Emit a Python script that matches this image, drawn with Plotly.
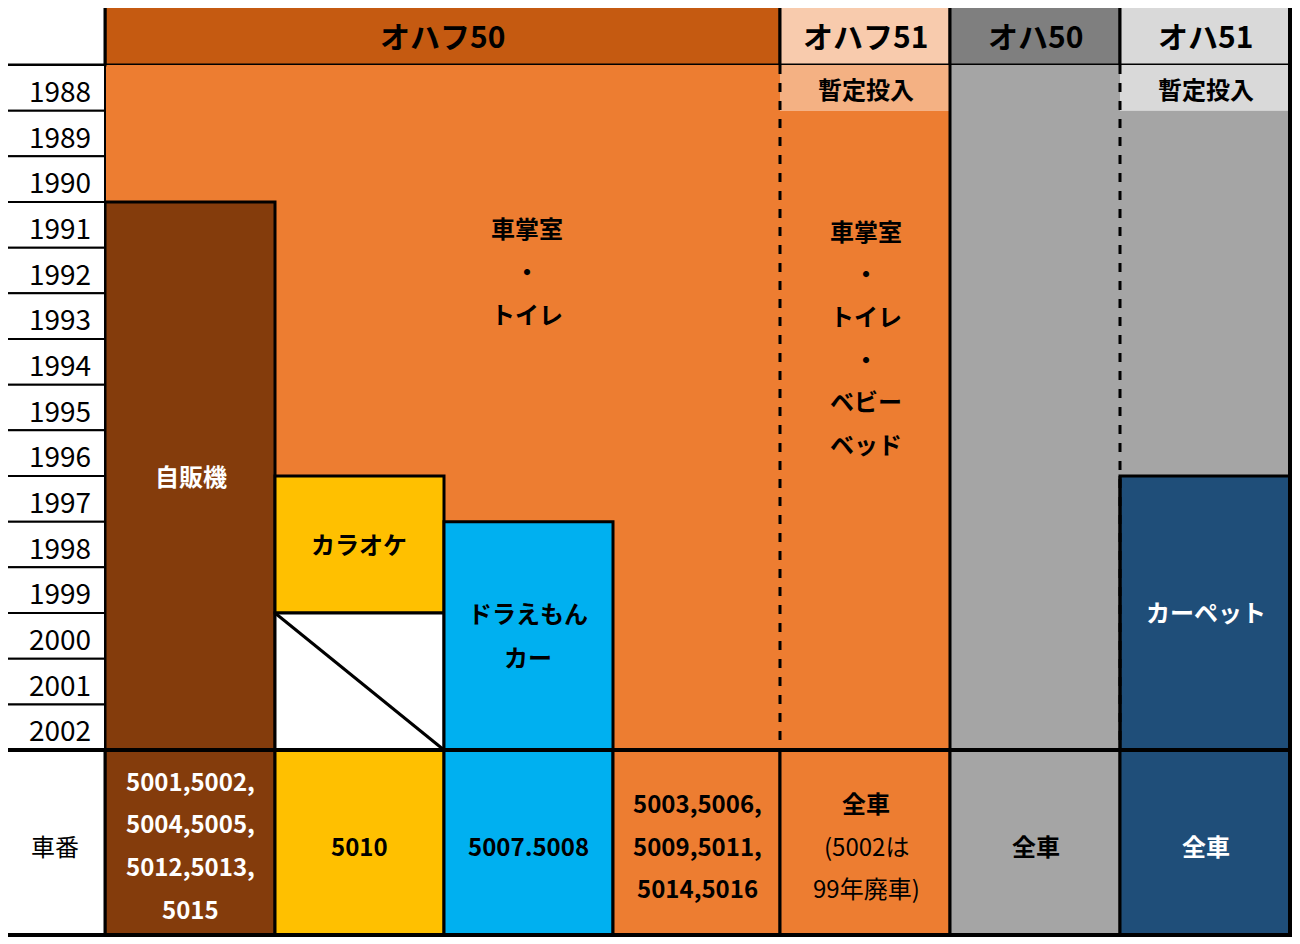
import plotly.graph_objects as go

years = [str(y) for y in range(1988, 2003)]
# column edges (label col, 4 sub-cols of オハフ50, オハフ51, オハ50, オハ51)
col_edges = [5, 105, 275, 444, 613, 780, 950, 1120, 1290]
# row edges: header, 15 year rows, car number row
row_edges = [5, 65] + [65 + 45.67 * (i + 1) for i in range(15)] + [935]
row_edges[16] = 750

headers = ["オハフ50", "オハフ51", "オハ50", "オハ51"]
header_cols = [(1, 5), (5, 6), (6, 7), (7, 8)]
header_colors = ["#C55A11", "#F8CBAD", "#7F7F7F", "#D9D9D9"]

# cells: (col0, col1, row0, row1, color, border)  rows 1..15 = years
cells = [
    (1, 5, 1, 16, "#ED7D31", False),
    (1, 2, 4, 16, "#843C0C", True),
    (2, 3, 10, 13, "#FFC000", True),
    (2, 3, 13, 16, "#FFFFFF", True),
    (3, 4, 11, 16, "#00B0F0", True),
    (5, 6, 1, 2, "#F4B183", False),
    (5, 6, 2, 16, "#ED7D31", False),
    (6, 7, 1, 16, "#A5A5A5", False),
    (7, 8, 1, 2, "#D9D9D9", False),
    (7, 8, 2, 10, "#A5A5A5", False),
    (7, 8, 10, 16, "#1F4E79", True),
    (1, 2, 16, 17, "#843C0C", True),
    (2, 3, 16, 17, "#FFC000", True),
    (3, 4, 16, 17, "#00B0F0", True),
    (4, 5, 16, 17, "#ED7D31", True),
    (5, 6, 16, 17, "#ED7D31", True),
    (6, 7, 16, 17, "#A5A5A5", True),
    (7, 8, 16, 17, "#1F4E79", True),
    (0, 1, 0, 1, "#FFFFFF", True),
    (0, 1, 16, 17, "#FFFFFF", True),
]

# texts: (x, y, text, color, bold)
labels = [
    (527, 227, "車掌室", "black", True), (527, 270, "・", "black", True), (527, 313, "トイレ", "black", True),
    (866, 88, "暫定投入", "black", True), (1206, 88, "暫定投入", "black", True),
    (866, 230, "車掌室", "black", True), (866, 272, "・", "black", True), (866, 315, "トイレ", "black", True),
    (866, 358, "・", "black", True), (866, 400, "ベビー", "black", True), (866, 443, "ベッド", "black", True),
    (191, 475, "自販機", "white", True), (359, 543, "カラオケ", "black", True),
    (528, 612, "ドラえもん", "black", True), (528, 656, "カー", "black", True),
    (1206, 611, "カーペット", "white", True),
    (55, 845, "車番", "black", False),
    (190, 780, "5001,5002,", "white", True), (190, 822, "5004,5005,", "white", True),
    (190, 865, "5012,5013,", "white", True), (190, 908, "5015", "white", True),
    (359, 845, "5010", "black", True), (528, 845, "5007.5008", "black", True),
    (697, 802, "5003,5006,", "black", True), (697, 845, "5009,5011,", "black", True),
    (697, 887, "5014,5016", "black", True),
    (866, 802, "全車", "black", True), (866, 845, "(5002は", "black", False), (866, 887, "99年廃車)", "black", False),
    (1036, 845, "全車", "black", True), (1206, 845, "全車", "white", True),
]

fig = go.Figure()
shapes = []
for (c0, c1), col in zip(header_cols, header_colors):
    shapes.append(dict(type="rect", x0=col_edges[c0], x1=col_edges[c1], y0=row_edges[0], y1=row_edges[1],
                       fillcolor=col, line=dict(color="black", width=3)))
for c0, c1, r0, r1, col, border in cells:
    shapes.append(dict(type="rect", x0=col_edges[c0], x1=col_edges[c1], y0=row_edges[r0], y1=row_edges[r1],
                       fillcolor=col, line=dict(color="black", width=3 if border else 0)))
for i in range(15):
    shapes.append(dict(type="rect", x0=col_edges[0], x1=col_edges[1], y0=row_edges[i + 1], y1=row_edges[i + 2],
                       fillcolor="white", line=dict(color="black", width=2)))
shapes.append(dict(type="line", x0=col_edges[2], y0=row_edges[13], x1=col_edges[3], y1=row_edges[16],
                   line=dict(color="black", width=3)))
for c in (5, 7):
    shapes.append(dict(type="line", x0=col_edges[c], x1=col_edges[c], y0=row_edges[1], y1=row_edges[16],
                       line=dict(color="black", width=3, dash="dash")))
for c in (6,):
    shapes.append(dict(type="line", x0=col_edges[c], x1=col_edges[c], y0=row_edges[1], y1=row_edges[16],
                       line=dict(color="black", width=3)))
shapes.append(dict(type="line", x0=col_edges[7], x1=col_edges[7], y0=row_edges[10], y1=row_edges[16],
                   line=dict(color="black", width=3)))
shapes.append(dict(type="rect", x0=col_edges[0], x1=col_edges[-1], y0=row_edges[0], y1=row_edges[-1],
                   line=dict(color="black", width=4)))
shapes.append(dict(type="line", x0=col_edges[0], x1=col_edges[-1], y0=row_edges[16], y1=row_edges[16],
                   line=dict(color="black", width=4)))
fig.update_layout(shapes=shapes)

ann = []
for (c0, c1), t in zip(header_cols, headers):
    ann.append(dict(x=(col_edges[c0] + col_edges[c1]) / 2, y=35, text="<b>" + t + "</b>",
                    font=dict(size=30, color="black"), showarrow=False))
for i, y in enumerate(years):
    ann.append(dict(x=93, y=(row_edges[i + 1] + row_edges[i + 2]) / 2 + 2, text=y, xanchor="right",
                    font=dict(size=28, color="black"), showarrow=False))
for x, y, t, c, b in labels:
    ann.append(dict(x=x, y=y, text="<b>" + t + "</b>" if b else t, font=dict(size=24, color=c), showarrow=False))
fig.update_layout(annotations=ann)

fig.add_trace(go.Scatter(x=[10, 1300], y=[10, 944], mode="markers", marker=dict(opacity=0), hoverinfo="skip"))
fig.update_xaxes(range=[8, 1308], visible=False, fixedrange=True)
fig.update_yaxes(range=[952, 8], visible=False, fixedrange=True)
fig.update_layout(width=1300, height=944, margin=dict(l=0, r=0, t=0, b=0), showlegend=False,
                  plot_bgcolor="white", paper_bgcolor="white",
                  font=dict(family="Noto Sans CJK JP, sans-serif"))
fig.write_html("out.html")
